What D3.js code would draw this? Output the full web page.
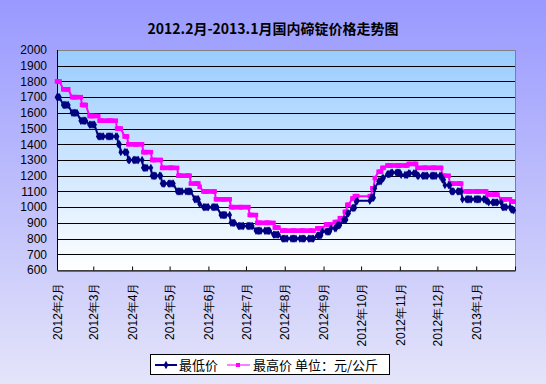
<!DOCTYPE html>
<meta charset="utf-8">
<style>
  body { margin: 0; }
  svg { display: block; font-family: "Liberation Sans", "Noto Sans CJK SC", sans-serif; }
  .grid line { stroke: #000; stroke-width: 1; }
  .axis text { font-size: 12px; fill: #000; }
  .axis path, .axis line { stroke: #000; }
</style>
<svg width="546" height="384"></svg>
<script src="https://cdn.jsdelivr.net/npm/d3@7/dist/d3.min.js"></script>
<script>

// price change points (date, yuan/kg); the price holds until the next point
var minSteps = [
  ["2012-02-01",1700],["2012-02-06",1650],["2012-02-13",1600],["2012-02-20",1550],
  ["2012-02-27",1525],["2012-03-05",1450],["2012-03-21",1400],["2012-03-23",1350],
  ["2012-03-29",1300],["2012-04-10",1250],["2012-04-17",1200],["2012-04-25",1150],
  ["2012-05-07",1100],["2012-05-21",1050],["2012-05-25",1020],["2012-05-28",1000],
  ["2012-06-11",950],["2012-06-19",900],["2012-06-25",880],["2012-07-09",850],
  ["2012-07-23",825],["2012-07-30",800],["2012-08-27",820],["2012-08-31",845],
  ["2012-09-07",865],["2012-09-12",885],["2012-09-17",920],["2012-09-20",960],
  ["2012-09-24",995],["2012-09-27",1035],["2012-09-28",1040],["2012-10-09",1060],
  ["2012-10-12",1120],["2012-10-15",1165],["2012-10-18",1185],["2012-10-22",1210],
  ["2012-10-25",1220],["2012-11-02",1205],["2012-11-08",1215],["2012-11-15",1200],
  ["2012-12-05",1175],["2012-12-07",1140],["2012-12-12",1100],["2012-12-21",1050],
  ["2013-01-09",1040],["2013-01-11",1030],["2013-01-22",1000],["2013-01-29",985],
  ["2013-01-31",980]
];
var maxSteps = [
  ["2012-02-01",1800],["2012-02-06",1750],["2012-02-13",1700],["2012-02-21",1650],
  ["2012-02-27",1580],["2012-03-06",1550],["2012-03-20",1500],["2012-03-26",1450],
  ["2012-03-29",1400],["2012-04-10",1350],["2012-04-17",1300],["2012-04-25",1250],
  ["2012-05-08",1200],["2012-05-18",1150],["2012-05-25",1130],["2012-05-28",1100],
  ["2012-06-07",1050],["2012-06-19",1000],["2012-07-04",950],["2012-07-10",900],
  ["2012-07-24",870],["2012-07-30",850],["2012-08-27",865],["2012-09-03",890],
  ["2012-09-10",905],["2012-09-14",930],["2012-09-18",970],["2012-09-20",1015],
  ["2012-09-24",1055],["2012-09-26",1070],["2012-10-10",1120],["2012-10-12",1185],
  ["2012-10-15",1225],["2012-10-18",1250],["2012-10-22",1265],["2012-11-08",1275],
  ["2012-11-15",1250],["2012-12-05",1200],["2012-12-11",1150],["2012-12-21",1100],
  ["2013-01-10",1080],["2013-01-21",1050],["2013-01-29",1035]
];
var yTicks = [600,700,800,900,1000,1100,1200,1300,1400,1500,1600,1700,1800,1900,2000];
var monthTicks = ["2012-02-01","2012-03-01","2012-04-01","2012-05-01","2012-06-01","2012-07-01",
  "2012-08-01","2012-09-01","2012-10-01","2012-11-01","2012-12-01","2013-01-01"];
var titleText = "2012.2月-2013.1月国内碲锭价格走势图";

var parse = d3.timeParse("%Y-%m-%d");

// quoted on working days; national day holiday has no quotes
function daily(steps) {
  var out = [], i = 0;
  d3.timeDays(parse("2012-02-01"), parse("2013-02-01")).forEach(function(d) {
    var wd = d.getDay();
    if (wd == 0 || wd == 6) return;
    if (d >= parse("2012-10-01") && d <= parse("2012-10-05")) return;
    while (i + 1 < steps.length && parse(steps[i + 1][0]) <= d) i++;
    out.push({date: d, value: steps[i][1]});
  });
  return out;
}
var minSeries = daily(minSteps), maxSeries = daily(maxSteps);

var svg = d3.select("svg");
var defs = svg.append("defs");
var bg = defs.append("linearGradient").attr("id", "bg").attr("x1", 0).attr("y1", 0).attr("x2", 0).attr("y2", 1);
bg.append("stop").attr("offset", 0).attr("stop-color", "#9999ff");
bg.append("stop").attr("offset", 1).attr("stop-color", "#e4e4fa");
var pg = defs.append("linearGradient").attr("id", "pg").attr("x1", 0).attr("y1", 0).attr("x2", 0).attr("y2", 1);
pg.append("stop").attr("offset", 0).attr("stop-color", "#99ccff");
pg.append("stop").attr("offset", 1).attr("stop-color", "#ffffff");

svg.append("rect").attr("width", 546).attr("height", 384).attr("fill", "url(#bg)");

var plotL = 57, plotR = 515, plotT = 50, plotB = 270;
var x = d3.scaleTime().domain([parse("2012-02-01"), parse("2013-02-01")]).range([plotL, plotR]);
var y = d3.scaleLinear().domain([600, 2000]).range([plotB, plotT]);

svg.append("rect").attr("x", plotL + 0.5).attr("y", plotT + 0.5).attr("width", plotR - plotL).attr("height", plotB - plotT)
    .attr("fill", "url(#pg)").attr("stroke", "#808080");

svg.append("g").attr("class", "grid")
  .selectAll("line").data(yTicks.slice(1, -1)).enter().append("line")
    .attr("x1", plotL).attr("x2", plotR)
    .attr("y1", function(d) { return Math.round(y(d)) + 0.5; })
    .attr("y2", function(d) { return Math.round(y(d)) + 0.5; });

svg.append("text").attr("x", 273).attr("y", 34).attr("text-anchor", "middle")
    .style("font-size", "14px").style("font-weight", "bold")
    .style("font-family", "'Noto Sans CJK SC', sans-serif").text(titleText);

var ya = svg.append("g").attr("class", "axis").attr("transform", "translate(" + plotL + ",0)")
    .call(d3.axisLeft(y).tickValues(yTicks).tickSize(0).tickPadding(10).tickFormat(d3.format("d")));
ya.select(".domain").remove();
svg.append("line").attr("x1", plotL + 0.5).attr("x2", plotL + 0.5).attr("y1", plotT).attr("y2", plotB).attr("stroke", "#000");

var xa = svg.append("g").attr("class", "axis").attr("transform", "translate(0," + (plotB + 0.5) + ")")
    .call(d3.axisBottom(x).tickValues(monthTicks.map(parse).concat([parse("2013-02-01")]))
      .tickSizeInner(-4).tickSizeOuter(0).tickFormat(function(d) {
        return d.getTime() == parse("2013-02-01").getTime() ? "" : d3.timeFormat("%Y年%-m月")(d);
      }));
xa.selectAll("text")
    .attr("transform", "rotate(-90)")
    .attr("text-anchor", "end")
    .attr("x", -12).attr("y", 0).attr("dy", "0.35em");

var line = d3.line().x(function(d) { return x(d.date); }).y(function(d) { return y(d.value); });

svg.append("path").datum(maxSeries).attr("d", line)
    .attr("fill", "none").attr("stroke", "#ff00ff").attr("stroke-width", 2);
svg.append("g").selectAll("rect").data(maxSeries).enter().append("rect")
    .attr("x", function(d) { return x(d.date) - 2.25; }).attr("y", function(d) { return y(d.value) - 2.25; })
    .attr("width", 4.5).attr("height", 4.5).attr("fill", "#ff00ff");

svg.append("path").datum(minSeries).attr("d", line)
    .attr("fill", "none").attr("stroke", "#000080").attr("stroke-width", 2);
var diamond = d3.symbol().type(d3.symbolDiamond).size(20);
svg.append("g").selectAll("path").data(minSeries).enter().append("path")
    .attr("transform", function(d) { return "translate(" + x(d.date) + "," + y(d.value) + ")"; })
    .attr("d", diamond).attr("fill", "#000080");

// legend
var lg = svg.append("g").style("font-size", "13px").style("font-family", "'Noto Sans CJK SC', sans-serif");
lg.append("rect").attr("x", 150.5).attr("y", 354.5).attr("width", 239).attr("height", 20)
    .attr("fill", "#fff").attr("stroke", "#000");
lg.append("line").attr("x1", 155).attr("x2", 177).attr("y1", 365).attr("y2", 365).attr("stroke", "#000080").attr("stroke-width", 2);
lg.append("path").attr("transform", "translate(166,365)").attr("d", diamond).attr("fill", "#000080");
lg.append("text").attr("x", 179).attr("y", 365).attr("dy", "0.35em").text("最低价");
lg.append("line").attr("x1", 227).attr("x2", 250).attr("y1", 365).attr("y2", 365).attr("stroke", "#ff00ff").attr("stroke-width", 1);
lg.append("rect").attr("x", 236).attr("y", 363).attr("width", 4).attr("height", 4).attr("fill", "#ff00ff");
lg.append("text").attr("x", 253).attr("y", 365).attr("dy", "0.35em").text("最高价 单位：元/公斤");

</script>
